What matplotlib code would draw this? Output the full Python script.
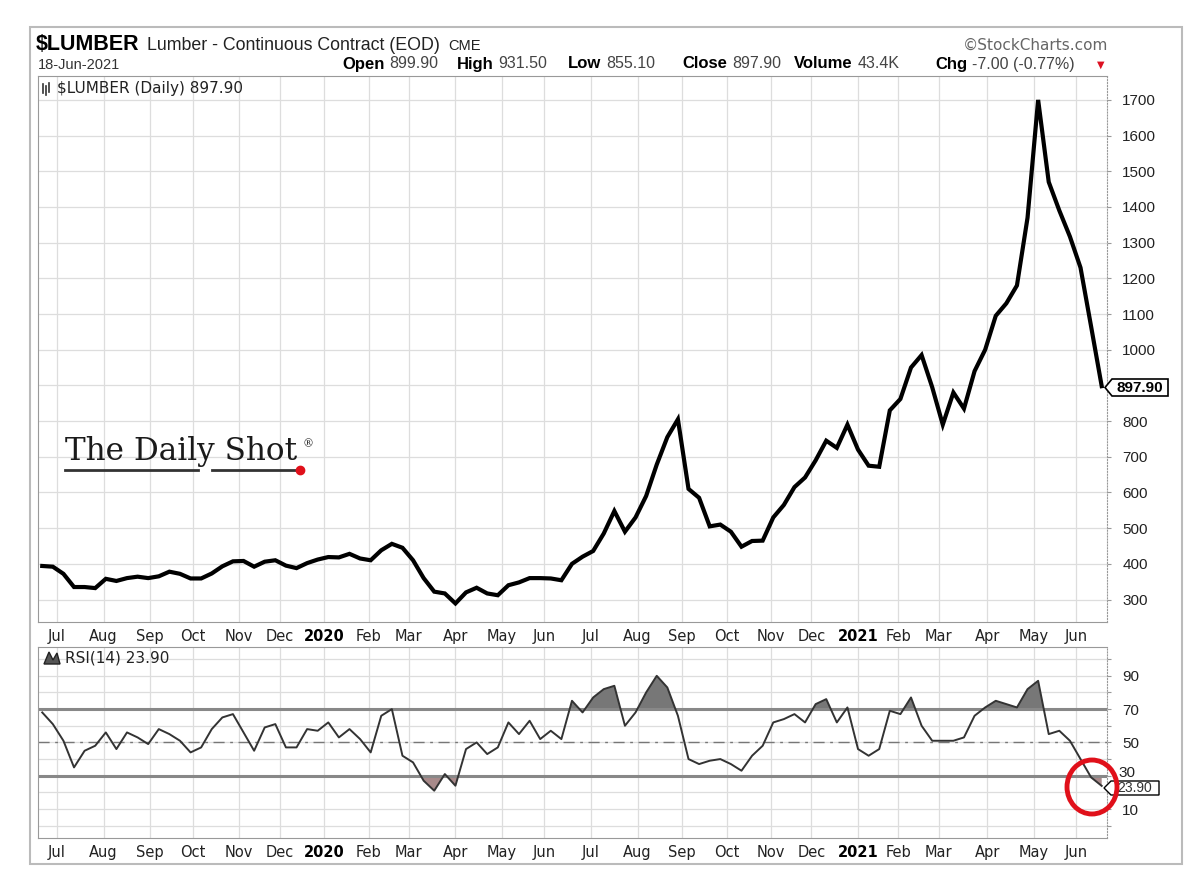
import calendar
import numpy as np
import pandas as pd
import matplotlib
matplotlib.use("Agg")
import matplotlib.pyplot as plt
from matplotlib.patches import Rectangle, Ellipse, Polygon
from matplotlib.lines import Line2D
from pandas.tseries.holiday import USFederalHolidayCalendar

# weekly closes (every 5th trading day, ending 18-Jun-2021)
price = [394, 392, 372, 335, 335, 332, 358, 352, 360, 364,
         360, 365, 378, 372, 359, 359, 373, 393, 407, 408,
         392, 406, 410, 395, 388, 402, 412, 419, 418, 428,
         415, 410, 438, 456, 445, 410, 360, 322, 317, 289,
         320, 333, 317, 312, 340, 348, 360, 360, 359, 354,
         400, 420, 436, 485, 548, 490, 530, 590, 678, 755,
         805, 610, 585, 505, 510, 490, 448, 464, 465, 530,
         565, 615, 642, 690, 745, 725, 790, 720, 675, 672,
         830, 862, 950, 985, 895, 790, 880, 835, 940, 1000,
         1095, 1130, 1180, 1370, 1700, 1470, 1390, 1317, 1230, 1065,
         897.9]

# RSI(14) at the same dates
rsi = [68, 61, 51, 35, 45, 48, 56, 46, 56, 53,
       49, 58, 55, 51, 44, 47, 58, 65, 67, 56,
       45, 59, 61, 47, 47, 58, 57, 62, 53, 58,
       52, 44, 66, 70, 42, 38, 27, 21, 31, 24,
       46, 50, 43, 47, 62, 55, 63, 52, 57, 52,
       75, 68, 77, 82, 84, 60, 68, 80, 90, 83,
       66, 40, 37, 39, 40, 37, 33, 42, 48, 62,
       64, 67, 62, 73, 76, 62, 71, 46, 42, 46,
       69, 67, 77, 60, 51, 51, 51, 53, 66, 71,
       75, 73, 71, 82, 87, 55, 57, 51, 40, 29,
       23.9]

price_ticks = list(range(300, 1800, 100))
rsi_ticks = list(range(0, 101, 10))

quote = [("Open", "899.90"), ("High", "931.50"), ("Low", "855.10"),
         ("Close", "897.90"), ("Volume", "43.4K"), ("Chg", "-7.00 (-0.77%)")]
quote_x = [342, 457, 568, 682, 794, 935]

# trading day axis like StockCharts
hol = USFederalHolidayCalendar().holidays("2019-01-01", "2021-12-31")
days = pd.bdate_range("2019-06-18", "2021-06-18", freq="C", holidays=hol)
n = len(days)
pos = n - 1 - 5 * (len(price) - 1) + 5 * np.arange(len(price))

ser = pd.Series(np.arange(n), index=days)
firsts = ser.groupby([days.year, days.month]).first().iloc[1:]
month_pos = firsts.values
month_lab = [str(y) if m == 1 else calendar.month_abbr[m] for (y, m) in firsts.index]

W, H = 1200, 894
fig = plt.figure(figsize=(W / 100, H / 100), dpi=100)


def fx(p):
    return p / W


def fy(p):
    return 1 - p / H


fig.add_artist(Rectangle((fx(30), fy(864)), 1152 / W, 837 / H, transform=fig.transFigure,
                         fill=False, ec="#bbbbbb", lw=1.5))

ax1 = fig.add_axes([fx(38), fy(622), (1107 - 38) / W, (622 - 76) / H])
ax2 = fig.add_axes([fx(38), fy(838), (1107 - 38) / W, (838 - 647) / H])

for ax in (ax1, ax2):
    ax.set_xlim(0, n + 1.5)
    ax.set_xticks(month_pos)
    ax.set_xticklabels(month_lab, fontsize=10.5, color="#222222", family="DejaVu Sans")
    for lab in ax.get_xticklabels():
        if lab.get_text().isdigit():
            lab.set_fontweight("bold")
            lab.set_color("black")
    ax.tick_params(axis="x", length=0, pad=5)
    ax.yaxis.tick_right()
    ax.tick_params(axis="y", length=3, color="#999999", pad=8, labelsize=11, labelcolor="#222222")
    ax.grid(True, color="#dddddd", lw=0.9)
    ax.set_axisbelow(True)
    for s in ax.spines.values():
        s.set_color("#999999")
    ax.spines["right"].set_linestyle(":")

# price panel
ax1.plot(pos, price, color="black", lw=3, solid_joinstyle="miter")
ax1.set_ylim(237, 1767)
ax1.set_yticks(price_ticks)
# 900 sits under the last-value tag
ax1.set_yticklabels(["" if t == 900 else str(t) for t in price_ticks])
for lab in ax1.get_yticklabels():
    lab.set_family("Liberation Sans")

# rsi panel
rsi = np.array(rsi)
ax2.fill_between(pos, rsi, 70, where=rsi >= 70, interpolate=True, color="#777777", lw=0)
ax2.fill_between(pos, rsi, 30, where=rsi <= 30, interpolate=True, color="#a88a8a", lw=0)
ax2.axhline(70, color="#888888", lw=2.2)
ax2.axhline(30, color="#888888", lw=2.2)
ax2.axhline(50, color="#777777", lw=1, dashes=(8, 4, 2, 4))
ax2.plot(pos, rsi, color="#333333", lw=1.4)
ax2.set_ylim(-7.4, 107.3)
ax2.set_yticks(rsi_ticks)
ax2.set_yticklabels(["" if (t % 20 == 0 or t == 30) else str(t) for t in rsi_ticks])
for lab in ax2.get_yticklabels():
    lab.set_family("Liberation Sans")
# the 30 label is nudged up, the value tag sits just below it
fig.text(fx(1118), fy(773), "30", family="Liberation Sans", fontsize=11, va="center",
         color="#222222")

# header
fig.text(fx(36), fy(45), "$LUMBER", family="Liberation Sans", weight="bold", fontsize=15.5,
         va="center")
fig.text(fx(147), fy(46), "Lumber - Continuous Contract (EOD)", family="Liberation Sans",
         fontsize=12.8, va="center", color="#222222")
fig.text(fx(448), fy(46), "CME", family="Liberation Sans", fontsize=10.5, va="center", color="#222222")
fig.text(fx(38), fy(65), "18-Jun-2021", family="Liberation Sans", fontsize=10.5, va="center",
         color="#333333")
fig.text(fx(1108), fy(45), "\u00a9StockCharts.com", family="DejaVu Sans", fontsize=11, va="center",
         ha="right", color="#666666")

for (lab, val), x in zip(quote, quote_x):
    t = fig.text(fx(x), fy(64), lab, family="Liberation Sans", weight="bold", fontsize=12,
                 va="center")
    fig.canvas.draw()
    bb = t.get_window_extent()
    fig.text(bb.x1 / W + fx(5), fy(64), val, family="Liberation Sans", fontsize=11.5,
             va="center", color="#444444")
fig.text(fx(1097), fy(65), "\u25bc", color="#dd1122", fontsize=7, va="center")

# small panel icons
for xs, ys in [((43, 43), (84, 93)), ((46, 46), (86, 95)), ((49, 49), (83, 92))]:
    fig.add_artist(Line2D([fx(xs[0]), fx(xs[1])], [fy(ys[0]), fy(ys[1])],
                          transform=fig.transFigure, color="#333333", lw=1.2))
fig.add_artist(Polygon([(fx(44), fy(664)), (fx(49), fy(652)), (fx(53), fy(660)),
                        (fx(57), fy(653)), (fx(60), fy(664))], closed=True,
                       transform=fig.transFigure, fc="#555555", ec="#222222", lw=1))
fig.text(fx(57), fy(88), "$LUMBER (Daily) 897.90", family="DejaVu Sans", fontsize=11, va="center",
         color="#222222")
fig.text(fx(65), fy(658), "RSI(14) 23.90", family="DejaVu Sans", fontsize=11, va="center",
         color="#222222")

# value tags on right axis
fig.add_artist(Polygon([(fx(1105), fy(387.5)), (fx(1112), fy(379)), (fx(1168), fy(379)),
                        (fx(1168), fy(396)), (fx(1112), fy(396))], closed=True,
                       transform=fig.transFigure, fc="white", ec="black", lw=1.2))
fig.text(fx(1140), fy(387.5), "897.90", family="Liberation Sans", weight="bold", fontsize=11,
         ha="center", va="center")
fig.add_artist(Polygon([(fx(1104), fy(788)), (fx(1111), fy(781)), (fx(1159), fy(781)),
                        (fx(1159), fy(795)), (fx(1111), fy(795))], closed=True,
                       transform=fig.transFigure, fc="white", ec="black", lw=1))
fig.text(fx(1135), fy(788.5), "23.90", family="Liberation Sans", fontsize=10,
         ha="center", va="center", color="#333333")

# red circle
fig.add_artist(Ellipse((fx(1092), fy(787)), 50 / W, 54 / H, transform=fig.transFigure,
                       fill=False, ec="#e0101a", lw=3.5))

# logo
fig.text(fx(65), fy(460), "The Daily Shot", family="DejaVu Serif", fontsize=22.4, va="baseline",
         color="#1a1a1a")
fig.text(fx(303), fy(444), "\u00ae", family="DejaVu Serif", fontsize=8, va="center", color="#222222")
fig.add_artist(Line2D([fx(65), fx(198)], [fy(470), fy(470)], transform=fig.transFigure,
                      color="#333333", lw=2))
fig.add_artist(Line2D([fx(212), fx(298)], [fy(470), fy(470)], transform=fig.transFigure,
                      color="#333333", lw=2))
fig.add_artist(Line2D([fx(300)], [fy(470)], transform=fig.transFigure, marker="o",
                      markersize=6, color="#e0101a"))

fig.savefig("out.png", dpi=100)
